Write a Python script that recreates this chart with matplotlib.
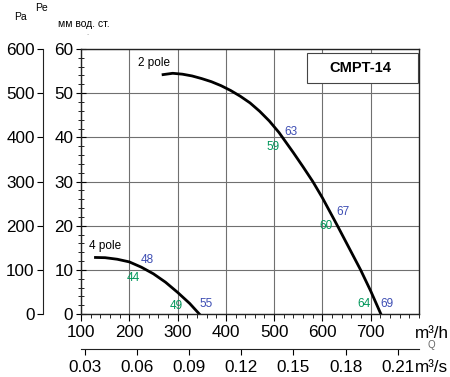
import matplotlib
matplotlib.use("Agg")
import matplotlib.pyplot as plt
from matplotlib.patches import Rectangle
from matplotlib.ticker import MultipleLocator

plt.rcParams['font.family'] = ['Liberation Sans', 'DejaVu Sans']

# 2 pole curve (m3/h, mm water column)
q_2pole = [270, 290, 310, 330, 350, 370, 390, 410, 430, 450, 470, 490, 510, 540, 560, 580, 600, 631, 655, 679, 700, 721]
p_2pole = [54.2, 54.5, 54.3, 53.9, 53.3, 52.6, 51.7, 50.6, 49.3, 47.8, 45.9, 43.7, 41.1, 36.5, 33.3, 30.0, 26.3, 20.0, 15.0, 10.0, 5.2, 0.0]

# 4 pole curve
q_4pole = [130, 150, 175, 200, 225, 250, 275, 300, 325, 345]
p_4pole = [12.8, 12.75, 12.4, 11.8, 10.6, 9.1, 7.2, 4.9, 2.4, 0.0]

# noise level labels: (q, p, text)
green_labels = [(208, 8.2, "44"), (298, 1.9, "49"), (498, 37.7, "59"), (607, 20.0, "60"), (686, 2.3, "64")]
blue_labels = [(237, 12.2, "48"), (360, 2.2, "55"), (534, 41.1, "63"), (643, 23.1, "67"), (734, 2.3, "69")]

x_ticks = [100, 200, 300, 400, 500, 600, 700]
y_ticks = [0, 10, 20, 30, 40, 50, 60]
pa_ticks = [0, 100, 200, 300, 400, 500, 600]
q_s_ticks = [0.03, 0.06, 0.09, 0.12, 0.15, 0.18, 0.21]

GREEN = "#00965a"
BLUE = "#3d4db3"

fig = plt.figure(figsize=(4.5, 3.77), dpi=100)
ax = fig.add_axes([81 / 450, 63 / 377, 338 / 450, 265 / 377])

ax.plot(q_2pole, p_2pole, color="black", lw=2, solid_joinstyle="round")
ax.plot(q_4pole, p_4pole, color="black", lw=2, solid_joinstyle="round")

for q, p, t in green_labels:
    ax.text(q, p, t, color=GREEN, fontsize=8.5, ha="center", va="center")
for q, p, t in blue_labels:
    ax.text(q, p, t, color=BLUE, fontsize=8.5, ha="center", va="center")

ax.text(218, 56.8, "2 pole", fontsize=8.5, va="center")
ax.text(117, 15.4, "4 pole", fontsize=8.5, va="center")

ax.set_xlim(100, 800)
ax.set_ylim(0, 60)
ax.set_xticks(x_ticks)
ax.set_yticks(y_ticks)
ax.xaxis.set_minor_locator(MultipleLocator(20))
ax.yaxis.set_minor_locator(MultipleLocator(2))
ax.grid(True, color="#707070", lw=0.8)
ax.tick_params(axis="x", which="major", direction="out", length=5, labelsize=12.3, pad=3)
ax.tick_params(axis="x", which="minor", direction="out", length=3)
ax.tick_params(axis="y", which="major", direction="inout", length=7, labelsize=12.3, pad=2)
ax.tick_params(axis="y", which="minor", direction="inout", length=4)
for s in ax.spines.values():
    s.set_color("#222222")
    s.set_linewidth(1)

# title box
ax.add_patch(Rectangle((0.668, 0.8706), 0.330, 0.1155, transform=ax.transAxes,
                       fc="white", ec="#444444", lw=0.8, zorder=3))
ax.text(0.828, 0.928, "CMPT-14", transform=ax.transAxes, fontsize=10.5, fontweight="bold",
        ha="center", va="center", zorder=4)

# m3/s axis under the chart
sec = ax.secondary_xaxis(-0.132, functions=(lambda q: q / 3600, lambda q: q * 3600))
sec.set_xticks(q_s_ticks)
sec.set_xticklabels([f"{v:.2f}" for v in q_s_ticks])
sec.tick_params(direction="out", length=4, labelsize=12.3, pad=4)
sec.spines["bottom"].set_color("#222222")

# Pa axis on the far left
pa = fig.add_axes([43 / 450, 63 / 377, 0.0001, 265 / 377])
pa.set_ylim(0, 600)
pa.set_yticks(pa_ticks)
pa.set_xticks([])
for k in ["top", "right", "bottom"]:
    pa.spines[k].set_visible(False)
pa.spines["left"].set_color("#222222")
pa.tick_params(axis="y", direction="out", length=4, labelsize=12.3, pad=2)
pa.patch.set_visible(False)

fig.text(415 / 450, 1 - 333 / 377, "m³/h", fontsize=12.3, va="center")
fig.text(415 / 450, 1 - 368 / 377, "m³/s", fontsize=12.3, va="center")
fig.text(428 / 450, 1 - 345 / 377, "Q", fontsize=7, color="#666666", va="center")
fig.text(20 / 450, 1 - 17 / 377, "Pa", fontsize=7.5, ha="center", va="center")
fig.text(42 / 450, 1 - 8 / 377, "Pe", fontsize=7.5, ha="center", va="center")
fig.text(84 / 450, 1 - 24 / 377, "мм вод. ст.", fontsize=7.5, ha="center", va="center")
fig.text(88 / 450, 1 - 35 / 377, "-", fontsize=5, color="#aaaaaa", ha="center", va="center")

fig.savefig("out.png", dpi=100)
